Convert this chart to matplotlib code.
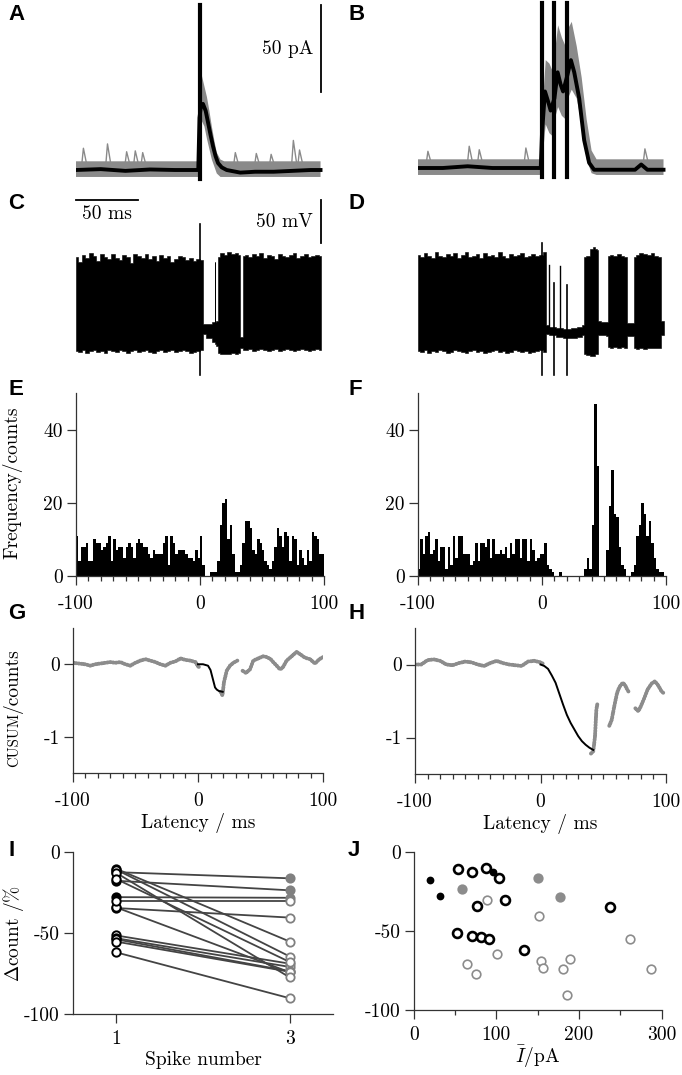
import numpy as np
import matplotlib

matplotlib.use("Agg")
import matplotlib.pyplot as plt

W, H = 682, 1075
GREY = "#8a8a8a"
SPINE = "#333333"

# ---------------- data ----------------
# A: single-pulse EPSCs (pA): average trace, grey trial envelope, spontaneous events
A_mean_t = [-100, -80, -60, -40, -20, -1, 0, 1, 2.8, 5, 7, 9, 11, 13, 15, 18, 22, 33, 45, 60, 75, 90, 98]
A_mean_v = [0, 0.5, -0.5, 0.3, 0, 0, 30, 36, 38, 34, 27, 20, 13.5, 8, 4, 1.5, 0, -1.5, -1, -1, -0.5, 0, 0]
A_grey_t = [-100, -1, 0.5, 2, 4, 6, 8, 10, 12, 14, 17, 20, 98]
A_grey_hi = [5, 5, 55, 54, 48, 42, 34, 25, 17, 10, 6, 5, 5]
A_grey_lo = [-4, -4, 15, 28, 25, 18, 12, 6, 2, -2, -4, -4, -4]
A_ev_t = [-94, -74.5, -59, -52, -46, 29, 46, 58, 76, 81]
A_ev_amp = [12.5, 15, 10.5, 11, 10, 10, 9.5, 9, 17, 11.5]
A_stim = [0]

# B: three-pulse train
B_mean_t = [-100, -80, -60, -40, -20, -1, 0, 2.4, 5, 7, 10, 12.6, 15, 17, 20, 23.3, 26, 30, 34, 38, 42, 60, 75, 80, 85, 98]
B_mean_v = [0, 0, 1, 0, 0, 0, 20, 44, 38, 33, 40, 55, 48, 44, 52, 62, 55, 40, 16, 3, -1, -1, -1, 2, -1, -1]
B_grey_t = [-100, -1, 1, 3, 6, 9, 11, 13, 16, 19, 21, 24, 28, 32, 36, 40, 44, 98]
B_grey_hi = [5, 5, 40, 62, 60, 55, 70, 82, 75, 70, 80, 84, 70, 52, 28, 10, 5, 5]
B_grey_lo = [-4, -4, 10, 25, 20, 18, 30, 35, 30, 28, 40, 45, 40, 25, 5, -3, -4, -4]
B_ev_t = [-92, -58.7, -50.6, -13, 83]
B_ev_amp = [9.6, 12.5, 10.5, 11.5, 11]
B_stim = [0, 10, 20]

# C/D: overlaid membrane potential sweeps (mV), upper/lower envelope of the black mass
C_t = [-100, -97, -94, -91, -88, -85, -82, -79, -76, -73, -70, -67, -64, -61, -58, -55, -52, -49,
       -46, -43, -40, -37, -34, -31, -28, -25, -22, -19, -16, -13, -10, -7, -4, -1, 2,
       3, 3, 8, 12, 12.5, 13, 14.5, 15, 18, 21, 24, 27, 30, 33, 33, 35, 35,
       38, 41, 44, 47, 50, 53, 56, 59, 62, 65, 68, 71, 74, 77, 80, 83, 86, 89, 92, 95, 98]
C_hi = [30, 25, 33, 29, 35, 31, 26, 34, 30, 28, 34, 29, 27, 33, 30, 24, 34, 31,
        29, 34, 28, 31, 26, 33, 29, 31, 25, 28, 32, 30, 27, 29, 26, 28, 27,
        27, -47, -47, -45, 25, -45, -44, 30, 35, 33, 36, 34, 35, 33, -62, -62, 32,
        33, 30, 34, 31, 35, 29, 33, 32, 28, 34, 31, 30, 33, 35, 29, 32, 34, 30, 31, 33, 32]
C_lo = [-78, -79, -77, -80, -78, -77, -79, -78, -80, -77, -78, -79, -77, -78, -80, -78, -77, -79,
        -78, -77, -79, -80, -78, -77, -79, -78, -77, -79, -78, -77, -78, -80, -79, -78, -77,
        -77, -58, -63, -68, -70, -70, -72, -80, -81, -82, -81, -80, -81, -80, -75, -75, -77,
        -77, -76, -78, -77, -76, -77, -78, -77, -76, -78, -77, -76, -77, -78, -77, -76, -77, -78, -77, -76, -77]
C_art_t, C_art_top = [0], [69]

D_t = [-100, -97, -94, -91, -88, -85, -82, -79, -76, -73, -70, -67, -64, -61, -58, -55, -52, -49,
       -46, -43, -40, -37, -34, -31, -28, -25, -22, -19, -16, -13, -10, -7, -4, -1, 2,
       3, 3, 8, 14, 20, 26, 30, 34, 34, 37, 40, 42, 44, 45, 45, 50, 53, 53, 56, 59, 62, 65, 68,
       68.5, 74, 74, 77, 80, 83, 86, 89, 92, 95, 96, 96, 98]
D_hi = [33, 30, 35, 31, 29, 36, 32, 30, 34, 31, 35, 29, 33, 36, 30, 32, 34, 29,
        35, 31, 33, 30, 36, 32, 29, 34, 31, 33, 35, 30, 32, 34, 31, 33, 36,
        36, -48, -50, -52, -53, -52, -50, -48, 30, 32, 40, 42, 40, 38, -44, -45, -45, 32, 33, 31, 34, 32, 30,
        -46, -46, 30, 33, 35, 34, 33, 35, 32, 30, 30, -44, -44]
D_lo = [-78, -79, -77, -80, -78, -79, -77, -78, -80, -79, -77, -78, -79, -80, -78, -77, -79, -78,
        -80, -79, -78, -77, -79, -78, -80, -79, -77, -78, -79, -78, -80, -79, -78, -77, -79,
        -79, -58, -60, -62, -63, -63, -62, -60, -81, -83, -84, -84, -82, -81, -60, -60, -61, -73, -74, -73, -74, -73, -74,
        -61, -61, -75, -76, -75, -76, -75, -74, -75, -74, -74, -60, -60]
D_art_t, D_art_top = [0, 10, 20], [47, 0, -2]
D_spk_t, D_spk_top = [6, 14.6], [21, 20]

# E/F: peri-stimulus time histograms, 2 ms bins from -100 to 100 ms
E_counts = [11, 4, 8, 8, 9, 4, 4, 10, 9, 9, 7, 8, 9, 11, 4, 10, 7, 8, 8, 5,
            8, 9, 8, 5, 9, 10, 9, 8, 8, 6, 5, 7, 6, 6, 6, 9, 11, 3, 11, 9,
            6, 7, 7, 7, 6, 5, 5, 4, 7, 5,
            11, 3, 0, 0, 1, 1, 1, 4, 14, 20, 21, 10, 14, 6, 1, 1, 3, 9, 15, 15,
            13, 7, 6, 10, 9, 7, 4, 3, 2, 4, 8, 13, 11, 8, 12, 11, 4, 11, 10, 3,
            7, 5, 3, 7, 4, 12, 11, 10, 6, 6]
F_counts = [2, 10, 6, 11, 12, 6, 7, 10, 4, 8, 8, 2, 8, 3, 11, 5, 11, 11, 6, 6,
            6, 3, 4, 9, 4, 9, 9, 8, 10, 5, 10, 6, 6, 7, 6, 8, 5, 9, 6, 10,
            10, 5, 10, 10, 4, 10, 7, 4, 5, 6,
            6, 9, 3, 2, 1, 0, 0, 1, 0, 0, 0, 0, 0, 0, 0, 0, 0, 2, 5, 2,
            14, 47, 30, 0, 0, 0, 7, 19, 29, 17, 16, 8, 3, 2, 0, 0, 1, 3, 11, 14,
            20, 17, 11, 15, 9, 5, 2, 1, 1, 0]

# G/H: CUSUM (counts); grey segments and black fitted inhibition
G_grey = [
    ([-100, -95, -90, -86, -82, -78, -74, -70, -66, -62, -58, -54, -50, -46, -42, -38, -34, -30, -26,
      -22, -18, -14, -10, -6, -2, 0, 2],
     [0.02, 0.01, 0.0, -0.02, 0.0, 0.01, 0.02, 0.03, 0.02, 0.03, 0.0, -0.02, 0.02, 0.05, 0.07, 0.05,
      0.03, 0.0, -0.02, 0.02, 0.04, 0.08, 0.06, 0.05, 0.03, -0.03, -0.05]),
    ([18, 19.5, 20.7, 22.9, 25.5, 28.2, 31.4],
     [-0.38, -0.43, -0.25, -0.09, -0.02, 0.02, 0.05]),
    ([35.6, 38.3, 41.5, 44.1, 48, 52, 54.8, 58, 60, 62.8, 65.4, 67.5, 70.7, 74.7, 78.7, 81.4, 85.4,
      89.4, 93.4, 96.8, 100],
     [-0.09, -0.12, -0.07, 0.05, 0.08, 0.11, 0.1, 0.07, 0.03, -0.02, -0.07, -0.05, 0.05, 0.11, 0.17,
      0.14, 0.09, 0.07, 0.01, 0.07, 0.1]),
]
G_fit_t = [0, 4, 8, 10, 11.5, 13.6, 15, 16.8, 19.7]
G_fit_v = [0, 0, -0.02, -0.08, -0.18, -0.32, -0.35, -0.37, -0.38]

H_grey = [
    ([-100, -95, -90, -85, -80, -75, -70, -65, -60, -55, -50, -45, -40, -35, -30, -25, -20, -15,
      -10, -5, 0, 3],
     [0.0, 0.0, 0.06, 0.07, 0.05, 0.0, -0.01, 0.02, 0.04, 0.03, 0.0, -0.02, 0.02, 0.05, 0.02, 0.0,
      -0.01, -0.02, 0.04, 0.05, 0.03, 0.0]),
    ([40.2, 42, 43.4, 44.5, 45.5], [-1.22, -1.19, -0.99, -0.62, -0.52]),
    ([54.8, 56.7, 58.8, 61, 62.8, 65.5, 67.3, 69, 70.8], [-0.84, -0.76, -0.57, -0.39, -0.31, -0.25, -0.28, -0.34, -0.39]),
    ([75.6, 78, 80, 82.7, 85.4, 88.6, 91.2, 93.9, 96.5, 98],
     [-0.6, -0.64, -0.57, -0.46, -0.34, -0.26, -0.23, -0.29, -0.37, -0.39]),
]
H_fit_t = [0, 3, 6, 9, 12, 15, 18, 21, 24, 27, 30, 33, 36, 39, 42]
H_fit_v = [0, -0.02, -0.06, -0.15, -0.25, -0.4, -0.55, -0.69, -0.8, -0.89, -0.98, -1.05, -1.1, -1.14, -1.17]

# I/J: per-cell change in spike count for spike 1 (black) and spike 3 (grey)
I1_pA = [96, 20, 32, 133, 52, 70.6, 81, 91, 238, 76, 111, 88, 53, 70.6, 103]
I1_dc = [-12.6, -17.9, -28, -62, -51.6, -53.3, -54, -55.4, -34.7, -34.3, -30.5, -10.5, -11, -13, -16.8]
I3_pA = [150, 58, 177, 185, 154, 65, 157, 181, 152, 287, 89, 262, 101, 75, 189]
I3_dc = [-16.4, -23.8, -28.4, -90.3, -69, -71, -73.7, -74, -40.6, -74.3, -30.5, -55.4, -64.6, -77.5, -68]
filled = [True, True, True] + [False] * 12


# ---------------- layout helpers ----------------
def ax_px(fig, left, top, right, bottom):
    return fig.add_axes([left / W, 1 - bottom / H, (right - left) / W, (bottom - top) / H])


def style_axis(ax):
    for s in ("top", "right"):
        ax.spines[s].set_visible(False)
    for s in ("left", "bottom"):
        ax.spines[s].set_color(SPINE)
        ax.spines[s].set_linewidth(0.9)
    ax.tick_params(which="both", direction="out", color=SPINE, width=0.9, labelsize=14)
    ax.tick_params(which="major", length=6.5)
    ax.tick_params(which="minor", length=3.5)


def latency_ticks(ax, pad):
    ax.set_xlim(-100, 100)
    ax.set_xticks([-100, 0, 100])
    ax.set_xticklabels(["-100", "0", "100"])
    ax.set_xticks([t for t in range(-90, 100, 10) if t != 0], minor=True)
    ax.tick_params(axis="x", pad=pad)


def trace_panel(ax, mean_t, mean_v, gt, ghi, glo, ev_t, ev_amp, stim):
    ax.fill(np.r_[gt, gt[::-1]], np.r_[ghi, glo[::-1]], color=GREY, lw=0)
    for t, a in zip(ev_t, ev_amp):
        ax.plot([t - 1.5, t, t + 3], [2, a, 2], color=GREY, lw=1.0)
    ax.plot(mean_t, mean_v, color="black", lw=2.8, solid_joinstyle="round")
    for s in stim:
        ax.plot([s, s], [-5, 95], color="black", lw=3.0)
    ax.set_xlim(-100, 100)
    ax.axis("off")


def vm_panel(ax, t, hi, lo, art_t, art_top, spk_t=(), spk_top=()):
    ax.fill_between(t, lo, hi, step="mid", color="black", lw=0.4, edgecolor="black")
    for s, top in zip(art_t, art_top):
        ax.plot([s, s], [-106, top], color="black", lw=1.2)
    for s, top in zip(spk_t, spk_top):
        ax.plot([s, s], [-55, top], color="black", lw=1.0)
    ax.set_xlim(-100, 100)
    ax.axis("off")


def main():
    plt.rcParams.update({
        "font.family": "cmr10",
        "mathtext.fontset": "cm",
        "axes.unicode_minus": False,
        "font.size": 14,
    })
    fig = plt.figure(figsize=(W / 100, H / 100), dpi=100)

    # A / B : current traces (0 pA sits at 170 px, 1.74 px per pA)
    axA = ax_px(fig, 76, 0, 323, 185)
    trace_panel(axA, A_mean_t, A_mean_v, np.array(A_grey_t), np.array(A_grey_hi), np.array(A_grey_lo),
                A_ev_t, A_ev_amp, A_stim)
    axA.set_ylim(-15 / 1.74, 170 / 1.74)
    axA.plot([98.4, 98.4], [44.8, 94.8], color="black", lw=1.3, clip_on=False)
    axA.text(92, 69.8, "50 pA", ha="right", va="center", fontsize=14)

    axB = ax_px(fig, 418, 0, 666, 185)
    trace_panel(axB, B_mean_t, B_mean_v, np.array(B_grey_t), np.array(B_grey_hi), np.array(B_grey_lo),
                B_ev_t, B_ev_amp, B_stim)
    axB.set_ylim(-17 / 1.74, 168 / 1.74)

    # C / D : voltage traces (35 mV at 253 px, 0.867 px per mV)
    vlim = (35 - 127 / 0.867, 35 + 68 / 0.867)
    axC = ax_px(fig, 76, 185, 323, 380)
    vm_panel(axC, C_t, C_hi, C_lo, C_art_t, C_art_top)
    axC.set_ylim(*vlim)
    axC.plot([-100, -50], [96, 96], color="black", lw=1.3, clip_on=False)
    axC.text(-75, 80, "50 ms", ha="center", va="center", fontsize=14)
    axC.plot([98.4, 98.4], [46, 96], color="black", lw=1.3, clip_on=False)
    axC.text(92, 71, "50 mV", ha="right", va="center", fontsize=14)

    axD = ax_px(fig, 418, 185, 666, 380)
    vm_panel(axD, D_t, D_hi, D_lo, D_art_t, D_art_top, D_spk_t, D_spk_top)
    axD.set_ylim(*vlim)

    # E / F : histograms
    edges = np.arange(-100, 100, 2)
    for box, counts in (((76, 393, 324, 576), E_counts), ((418, 393, 666, 576), F_counts)):
        ax = ax_px(fig, *box)
        style_axis(ax)
        ax.bar(edges, counts, width=2, align="edge", color="black", lw=0)
        latency_ticks(ax, pad=7.5)
        ax.set_ylim(0, 50)
        ax.set_yticks([0, 20, 40])
        ax.tick_params(axis="y", pad=3)
    fig.text(17 / W, 1 - 483 / H, "Frequency/counts", rotation=90, rotation_mode="anchor",
             ha="center", va="baseline", fontsize=14)

    # G / H : CUSUM
    for box, segs, ft, fv in (((72.7, 628, 323.3, 773), G_grey, G_fit_t, G_fit_v),
                              ((415, 628, 666, 774), H_grey, H_fit_t, H_fit_v)):
        ax = ax_px(fig, *box)
        style_axis(ax)
        for st, sv in segs:
            ax.plot(st, sv, color="#8c8c8c", lw=2.8, ls=(0, (0.2, 0.55)), dash_capstyle="round")
        ax.plot(ft, fv, color="black", lw=1.4)
        latency_ticks(ax, pad=7.5)
        ax.set_ylim(-1.5, 0.5)
        ax.set_yticks([-1, 0])
        ax.set_yticklabels(["-1", "0"])
        ax.tick_params(axis="y", pad=3)
        ax.set_xlabel("Latency / ms", fontsize=14, labelpad=2)
    fig.text(18 / W, 1 - 713 / H, "CUSUM", rotation=90, rotation_mode="anchor",
             ha="right", va="baseline", fontsize=10.5)
    fig.text(18 / W, 1 - 713 / H, "/counts", rotation=90, rotation_mode="anchor",
             ha="left", va="baseline", fontsize=14)

    # I : spike 1 vs spike 3
    axI = ax_px(fig, 72.7, 851.7, 333.3, 1014)
    style_axis(axI)
    for a, b in zip(I1_dc, I3_dc):
        axI.plot([1, 3], [a, b], color="#444444", lw=1.3, zorder=2)
    for a, b, f in zip(I1_dc, I3_dc, filled):
        axI.plot(1, a, "o", ms=6, mew=1.4, mec="black", mfc="black" if f else "white", zorder=3)
        axI.plot(3, b, "o", ms=6, mew=1.3, mec="#808080", mfc="#808080" if f else "white", zorder=3)
    axI.set_xlim(0.5, 3.5)
    axI.set_ylim(-100, 0)
    axI.set_xticks([1, 3])
    axI.set_yticks([-100, -50, 0])
    axI.set_yticklabels(["-100", "-50", "0"])
    axI.tick_params(axis="x", pad=5)
    axI.tick_params(axis="y", pad=3)
    axI.set_xlabel("Spike number", fontsize=14, labelpad=2)
    fig.text(19 / W, 1 - 933 / H, r"$\Delta$count /%", rotation=90, rotation_mode="anchor",
             ha="center", va="baseline", fontsize=14)

    # J : change in count vs mean current
    axJ = ax_px(fig, 413.7, 851.7, 661.7, 1010)
    style_axis(axJ)
    for x, y, f in zip(I3_pA, I3_dc, filled):
        axJ.plot(x, y, "o", ms=6.2, mew=1.2, mec="#8c8c8c", mfc="#8c8c8c" if f else "white")
    for x, y, f in zip(I1_pA, I1_dc, filled):
        if f:
            axJ.plot(x, y, "o", ms=5.6, mew=0, mfc="black")
        else:
            axJ.plot(x, y, "o", ms=6.4, mew=1.9, mec="black", mfc="white")
    axJ.set_xlim(0, 300)
    axJ.set_ylim(-100, 0)
    axJ.set_xticks([0, 100, 200, 300])
    axJ.set_xticks([50, 150, 250], minor=True)
    axJ.set_yticks([-100, -50, 0])
    axJ.set_yticklabels(["-100", "-50", "0"])
    axJ.tick_params(axis="x", pad=5)
    axJ.tick_params(axis="y", pad=3)
    axJ.set_xlabel(r"$\bar{I}$/pA", fontsize=14, labelpad=0)

    # panel letters
    for letter, x, y in (("A", 8, 4), ("B", 348, 4), ("C", 8, 193), ("D", 348, 193),
                         ("E", 8, 379), ("F", 348, 379), ("G", 8, 603), ("H", 348, 603),
                         ("I", 8, 840), ("J", 348, 840)):
        fig.text(x / W, 1 - y / H, letter, ha="left", va="top", fontsize=16,
                 family="Liberation Sans", weight="bold")

    fig.savefig("out.png", dpi=100)


if __name__ == "__main__":
    main()
